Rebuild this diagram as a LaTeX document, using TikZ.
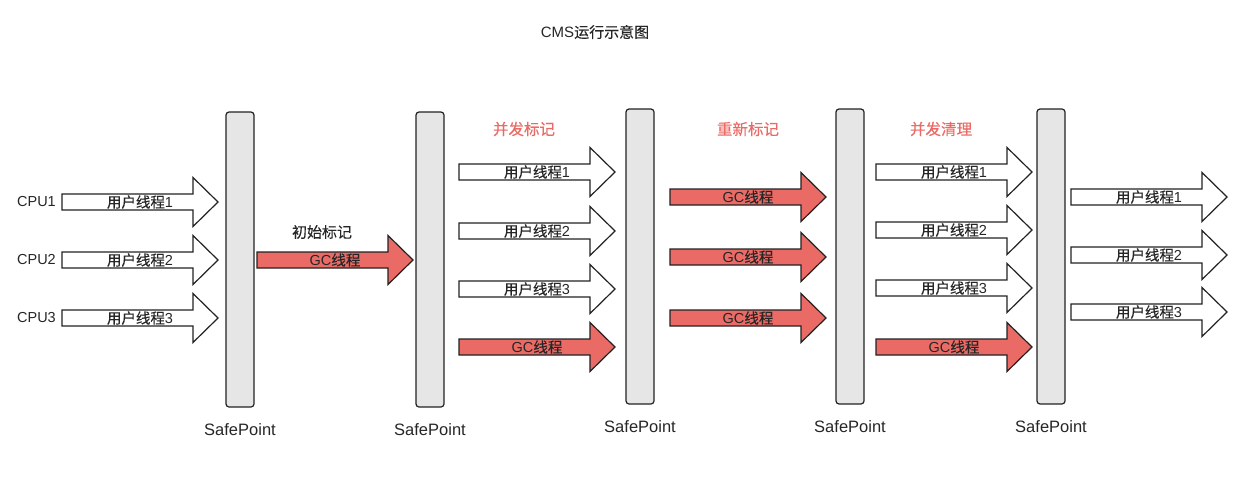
\documentclass[tikz,border=0pt]{standalone}
\usepackage{fontspec}
\setmainfont{Liberation Sans}
\newfontfamily\cjk[RawFeature={embolden=0.3}]{Noto Sans CJK SC}
\definecolor{gcred}{HTML}{EA6B66}
\definecolor{barfill}{HTML}{E6E6E6}
\definecolor{stroke}{HTML}{222222}
\newcommand{\zh}[1]{{\cjk #1}}
% block arrow: name, style, tail x, centre y, label
\newcommand{\barrow}[5]{%
  \draw[#2] (#3,#4-8) -- ++(131,0) -- ++(0,-16.5) -- ++(25,24.5) -- ++(-25,24.5) -- ++(0,-16.5) -- ++(-131,0) -- cycle;
  \node[alabel] (#1) at (#3+78,#4) {#5};}
\begin{document}
\begin{tikzpicture}[x=1pt,y=-1pt,
  userarrow/.style={draw=stroke,line width=1.2pt,fill=white},
  gcarrow/.style={draw=stroke,line width=1.2pt,fill=gcred},
  alabel/.style={inner sep=0pt,font=\fontsize{14.5}{16}\selectfont,text=black!85},
  spbar/.style={draw=stroke,line width=1.2pt,fill=barfill,rounded corners=3pt,minimum width=28pt,minimum height=295pt,inner sep=0pt},
  splabel/.style={font=\fontsize{16.5}{19}\selectfont,text=black!85},
  cpulabel/.style={anchor=east,inner sep=0pt,font=\fontsize{14.5}{16}\selectfont,text=black!85},
  phase/.style={font=\fontsize{15.5}{18}\selectfont\cjk,text=gcred},
]
\useasboundingbox (0,0) rectangle (1257,498);
\node[font=\fontsize{15}{18}\selectfont,text=black!85] (title) at (595,32) {CMS\zh{运行示意图}};

% SafePoint bars
\node[spbar] (sp1) at (240,259.5) {};
\node[spbar] (sp2) at (430,259.5) {};
\node[spbar] (sp3) at (640,256.5) {};
\node[spbar] (sp4) at (850,256.5) {};
\node[spbar] (sp5) at (1051,256.5) {};
\node[splabel] (spl1) at (240,430) {SafePoint};
\node[splabel] (spl2) at (430,430) {SafePoint};
\node[splabel] (spl3) at (640,427) {SafePoint};
\node[splabel] (spl4) at (850,427) {SafePoint};
\node[splabel] (spl5) at (1051,427) {SafePoint};

% CPU labels
\node[cpulabel] (cpu1) at (56,202) {CPU1};
\node[cpulabel] (cpu2) at (56,260) {CPU2};
\node[cpulabel] (cpu3) at (56,318) {CPU3};

% group 1
\barrow{a11}{userarrow}{62}{202}{\zh{用户线程}1}
\barrow{a12}{userarrow}{62}{260}{\zh{用户线程}2}
\barrow{a13}{userarrow}{62}{318}{\zh{用户线程}3}
% initial mark
\barrow{g1}{gcarrow}{257}{260}{GC\zh{线程}}
\node[font=\fontsize{15}{17}\selectfont\cjk,text=black!85] (ph1) at (322,232) {初始标记};

% concurrent mark
\node[phase] (ph2) at (524,129) {并发标记};
\barrow{a21}{userarrow}{459}{172}{\zh{用户线程}1}
\barrow{a22}{userarrow}{459}{231}{\zh{用户线程}2}
\barrow{a23}{userarrow}{459}{289}{\zh{用户线程}3}
\barrow{g2}{gcarrow}{459}{347}{GC\zh{线程}}

% remark
\node[phase] (ph3) at (748,129) {重新标记};
\barrow{g31}{gcarrow}{670}{197}{GC\zh{线程}}
\barrow{g32}{gcarrow}{670}{257}{GC\zh{线程}}
\barrow{g33}{gcarrow}{670}{318}{GC\zh{线程}}

% concurrent sweep
\node[phase] (ph4) at (941,129) {并发清理};
\barrow{a41}{userarrow}{876}{172}{\zh{用户线程}1}
\barrow{a42}{userarrow}{876}{230}{\zh{用户线程}2}
\barrow{a43}{userarrow}{876}{288}{\zh{用户线程}3}
\barrow{g4}{gcarrow}{876}{347}{GC\zh{线程}}

% after
\barrow{a51}{userarrow}{1071}{197}{\zh{用户线程}1}
\barrow{a52}{userarrow}{1071}{255}{\zh{用户线程}2}
\barrow{a53}{userarrow}{1071}{312}{\zh{用户线程}3}
\end{tikzpicture}
\end{document}
